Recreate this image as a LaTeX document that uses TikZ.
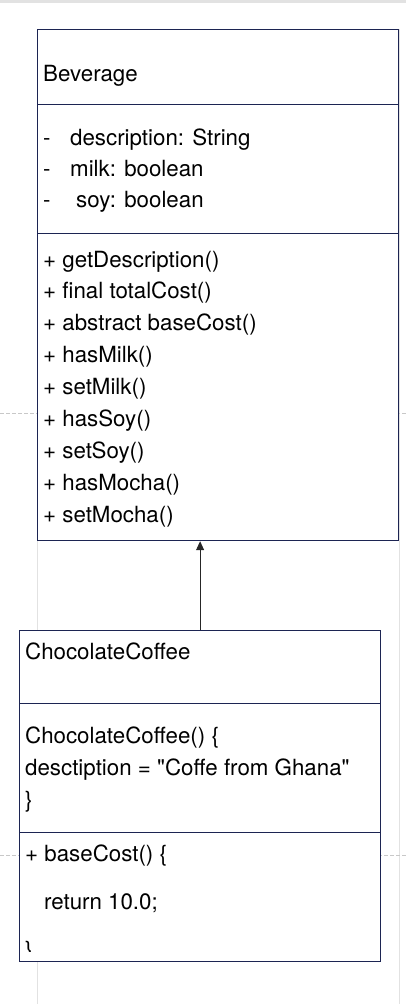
\documentclass[tikz,border=0pt]{standalone}
\usepackage{fontspec}
\setmainfont{TeX Gyre Heros}
\usepackage{xcolor}
\usetikzlibrary{arrows.meta}

\definecolor{umlnavy}{RGB}{28,36,82}
\definecolor{gridgray}{RGB}{226,226,226}
\definecolor{dashgray}{RGB}{200,200,200}

\tikzset{
    umlbox/.style={draw=umlnavy, line width=1.2pt, fill=white, rectangle,
        anchor=north west, inner sep=0pt, minimum width=361pt},
    txt/.style={anchor=base west, inner sep=0pt, font=\fontsize{22.3}{26}\selectfont},
    gridline/.style={draw=gridgray, line width=0.8pt},
    gridcut/.style={draw=dashgray, line width=0.6pt, dash pattern=on 4pt off 2pt},
}

\begin{document}
\begin{tikzpicture}[x=1pt, y=-1pt]
    \useasboundingbox (0,0) rectangle (406,1004);

    % 背景网格
    \fill[gridgray] (0,0) rectangle (406,3);
    \draw[gridline] (37.5,29) -- (37.5,1004);
    \draw[gridline] (399.5,29) -- (399.5,1004);
    \draw[gridcut] (0,413) -- (406,413);
    \draw[gridcut] (0,855) -- (406,855);

    % 类 Beverage
    \node[umlbox, minimum height=75pt]  (bevName) at (37,29)  {};
    \node[umlbox, minimum height=129pt] (bevAttr) at (37,104) {};
    \node[umlbox, minimum height=307pt] (bevOps)  at (37,233) {};

    \node[txt] (bevTitle) at (43,81) {Beverage};

    \foreach \a/\dx [count=\i] in {description: String/70, milk: boolean/70, soy: boolean/76}{
        \node[txt] (dash\i) at (43,145+31*\i-31) {-};
        \node[txt] (attr\i) at (\dx,145+31*\i-31) {\a};
    }

    \foreach \m [count=\i] in {getDescription(), final totalCost(), abstract baseCost(),
        hasMilk(), setMilk(), hasSoy(), setSoy(), hasMocha(), setMocha()}{
        \node[txt] (op\i) at (43,267+31.9*\i-31.9) {+ \m};
    }

    % 类 ChocolateCoffee
    \node[umlbox, minimum height=73pt]  (chocName) at (19,630) {};
    \node[umlbox, minimum height=129pt] (chocCtor) at (19,703) {};
    \node[umlbox, minimum height=129pt] (chocOps)  at (19,832) {};

    \node[txt] (chocTitle) at (25,659) {ChocolateCoffee};
    \node[txt] (ctor1) at (25,743) {ChocolateCoffee() \{};
    \node[txt] (ctor2) at (25,775) {desctiption = \textquotedbl Coffe from Ghana\textquotedbl};
    \node[txt] (ctor3) at (25,807) {\}};
    \node[txt] (cost1) at (25,861) {+ baseCost() \{};
    \node[txt] (cost2) at (44,909) {return 10.0;};
    \begin{scope}
        \clip (19,832) rectangle (380,951);
        \node[txt] (cost3) at (25,957) {\}};
    \end{scope}

    % 继承箭头
    \draw[black!85, line width=1pt, -{Triangle[length=9pt,width=8pt]}]
        (chocName.north) -- (chocName.north |- bevOps.south);

\end{tikzpicture}
\end{document}
